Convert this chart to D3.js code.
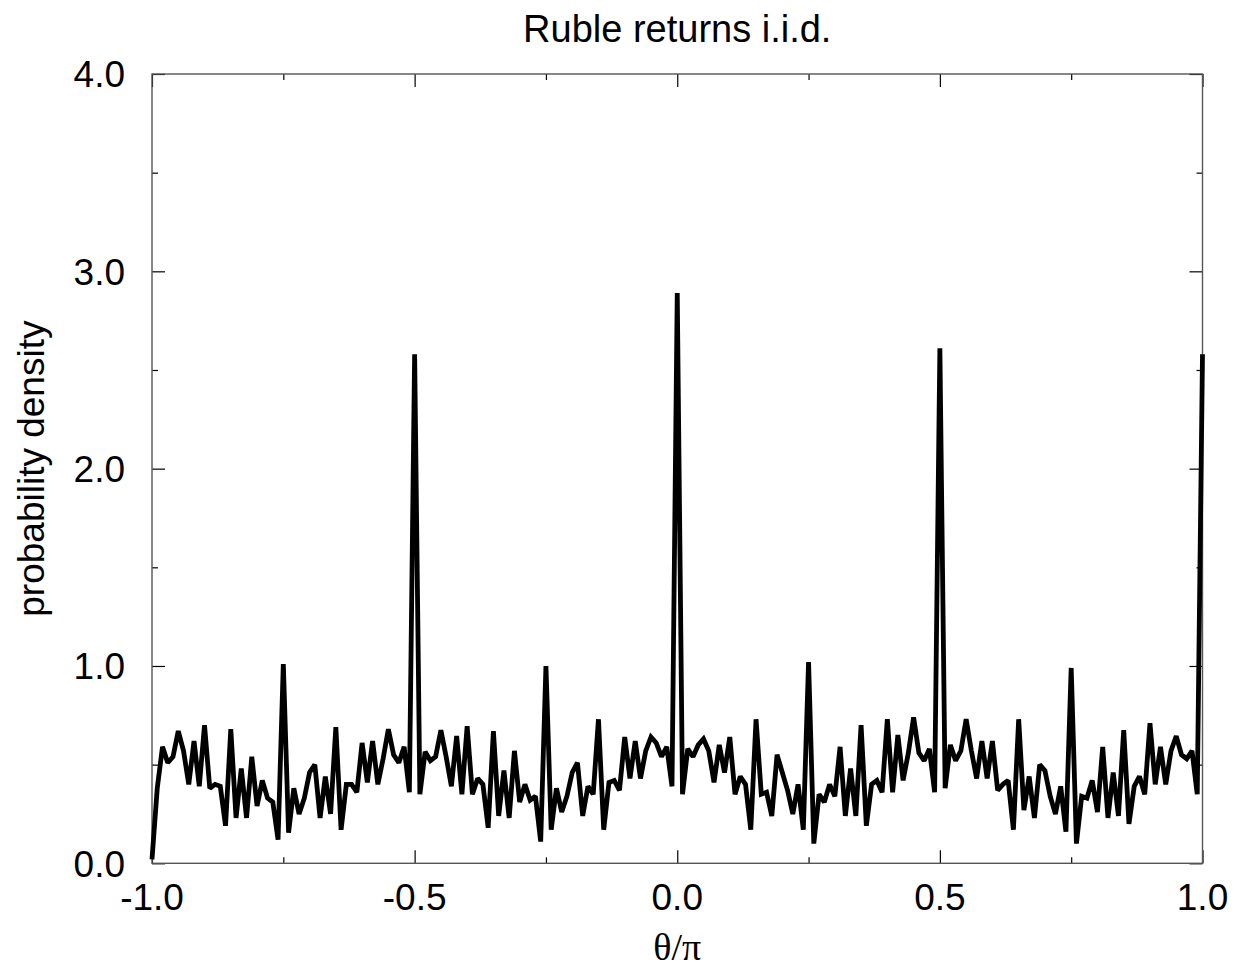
<!DOCTYPE html>
<html>
<head>
<meta charset="utf-8">
<script src="https://cdn.jsdelivr.net/npm/d3@7/dist/d3.min.js"></script>
<style>
  body { margin: 0; background: #fff; }
  text { font-family: "Liberation Sans", Arial, sans-serif; fill: #000; }
</style>
</head>
<body>
<div id="chart"></div>
<script>
// theta/pi grid, step 0.01 from -1 to 1
var thetaStart = -1.0, thetaStep = 0.01;

// probability density
var density = [
  0.02, 0.38, 0.59, 0.51, 0.54, 0.67, 0.57, 0.40, 0.62, 0.39,
  0.70, 0.38, 0.40, 0.39, 0.19, 0.68, 0.23, 0.48, 0.23, 0.54,
  0.29, 0.42, 0.33, 0.31, 0.12, 1.01, 0.155, 0.38, 0.25, 0.33,
  0.46, 0.50, 0.23, 0.44, 0.25, 0.69, 0.17, 0.40, 0.40, 0.36,
  0.61, 0.41, 0.62, 0.40, 0.53, 0.68, 0.55, 0.51, 0.59, 0.36,
  2.58, 0.35, 0.565, 0.52, 0.54, 0.675, 0.54, 0.39, 0.645, 0.35,
  0.695, 0.35, 0.43, 0.40, 0.18, 0.67, 0.24, 0.47, 0.23, 0.57,
  0.31, 0.40, 0.32, 0.34, 0.11, 1.00, 0.17, 0.38, 0.26, 0.34,
  0.46, 0.51, 0.24, 0.39, 0.35, 0.73, 0.17, 0.41, 0.42, 0.37,
  0.64, 0.43, 0.62, 0.43, 0.57, 0.64, 0.61, 0.54, 0.59, 0.39,
  2.89, 0.35, 0.58, 0.54, 0.60, 0.63, 0.57, 0.41, 0.60, 0.46,
  0.64, 0.35, 0.44, 0.40, 0.17, 0.73, 0.35, 0.36, 0.24, 0.55,
  0.46, 0.37, 0.25, 0.40, 0.17, 1.02, 0.10, 0.35, 0.31, 0.40,
  0.34, 0.59, 0.24, 0.48, 0.24, 0.70, 0.19, 0.40, 0.42, 0.36,
  0.73, 0.36, 0.65, 0.42, 0.56, 0.74, 0.56, 0.52, 0.58, 0.36,
  2.61, 0.38, 0.60, 0.52, 0.57, 0.73, 0.57, 0.43, 0.62, 0.43,
  0.62, 0.37, 0.40, 0.42, 0.17, 0.73, 0.27, 0.44, 0.23, 0.50,
  0.47, 0.34, 0.25, 0.39, 0.16, 0.99, 0.10, 0.34, 0.33, 0.42,
  0.26, 0.59, 0.23, 0.46, 0.24, 0.675, 0.20, 0.39, 0.44, 0.35,
  0.71, 0.40, 0.59, 0.40, 0.57, 0.645, 0.55, 0.53, 0.57, 0.35,
  2.58
];

var xTicks = [-1.0, -0.75, -0.5, -0.25, 0.0, 0.25, 0.5, 0.75, 1.0];
var xLabels = [-1.0, -0.5, 0.0, 0.5, 1.0];
var yTicks = [0.0, 0.5, 1.0, 1.5, 2.0, 2.5, 3.0, 3.5, 4.0];
var yLabels = [0.0, 1.0, 2.0, 3.0, 4.0];

var titleText = "Ruble returns i.i.d.";
var xTitle = "\u03b8/\u03c0";
var yTitle = "probability density";

var W = 1247, H = 973;
var margin = {top: 74, right: 44.5, bottom: 109.7, left: 152};
var width = W - margin.left - margin.right,
    height = H - margin.top - margin.bottom;

var x = d3.scaleLinear().domain([-1, 1]).range([0, width]);
var y = d3.scaleLinear().domain([0, 4]).range([height, 0]);

var data = density.map(function(v, i) {
  return {t: thetaStart + i * thetaStep, v: v};
});

var svg = d3.select("#chart").append("svg")
  .attr("width", W)
  .attr("height", H);

var g = svg.append("g")
  .attr("transform", "translate(" + margin.left + "," + margin.top + ")");

var frameColor = "#555";
// plain hyphen for negatives, like the original
var fmt = function(v) { return v.toFixed(1); };
function isLabelled(list, v) { return list.some(function(d) { return Math.abs(d - v) < 1e-9; }); }

// ticks on all four sides, pointing inward
var bottomAxis = d3.axisBottom(x).tickValues(xTicks).tickFormat("").tickSizeOuter(0).tickSizeInner(0);
var gx = g.append("g").attr("transform", "translate(0," + height + ")").call(bottomAxis);
gx.selectAll(".tick line")
  .attr("y2", function(d) { return isLabelled(xLabels, d) ? -13 : -6; })
  .attr("stroke", "#000").attr("stroke-width", 1.2);
gx.select(".domain").remove();

var topAxis = d3.axisTop(x).tickValues(xTicks).tickFormat("").tickSizeOuter(0).tickSizeInner(0);
var gxt = g.append("g").call(topAxis);
gxt.selectAll(".tick line")
  .attr("y2", function(d) { return isLabelled(xLabels, d) ? 13 : 6; })
  .attr("stroke", "#000").attr("stroke-width", 1.2);
gxt.select(".domain").remove();

var leftAxis = d3.axisLeft(y).tickValues(yTicks).tickFormat("").tickSizeOuter(0).tickSizeInner(0);
var gy = g.append("g").call(leftAxis);
gy.selectAll(".tick line")
  .attr("x2", function(d) { return isLabelled(yLabels, d) ? 13 : 6; })
  .attr("stroke", "#000").attr("stroke-width", 1.2);
gy.select(".domain").remove();

var rightAxis = d3.axisRight(y).tickValues(yTicks).tickFormat("").tickSizeOuter(0).tickSizeInner(0);
var gyr = g.append("g").attr("transform", "translate(" + width + ",0)").call(rightAxis);
gyr.selectAll(".tick line")
  .attr("x2", function(d) { return isLabelled(yLabels, d) ? -13 : -6; })
  .attr("stroke", "#000").attr("stroke-width", 1.2);
gyr.select(".domain").remove();

// frame
g.append("rect")
  .attr("x", 0).attr("y", 0)
  .attr("width", width).attr("height", height)
  .attr("fill", "none")
  .attr("stroke", frameColor)
  .attr("stroke-width", 1.4);

// tick labels
g.selectAll("text.xl").data(xLabels).enter().append("text")
  .attr("class", "xl")
  .attr("x", function(d) { return x(d); })
  .attr("y", height + 47)
  .attr("text-anchor", "middle")
  .style("font-size", "37px")
  .text(function(d) { return fmt(d); });

g.selectAll("text.yl").data(yLabels).enter().append("text")
  .attr("class", "yl")
  .attr("x", -27)
  .attr("y", function(d) { return y(d); })
  .attr("dy", "0.36em")
  .attr("text-anchor", "end")
  .style("font-size", "37px")
  .text(function(d) { return fmt(d); });

// the density curve
var line = d3.line()
  .x(function(d) { return x(d.t); })
  .y(function(d) { return y(d.v); });

g.append("path")
  .datum(data)
  .attr("fill", "none")
  .attr("stroke", "#000")
  .attr("stroke-width", 4.8)
  .attr("stroke-linejoin", "miter")
  .attr("stroke-miterlimit", 2)
  .attr("d", line);

// titles
svg.append("text")
  .attr("x", margin.left + width / 2)
  .attr("y", 42)
  .attr("text-anchor", "middle")
  .style("font-size", "38px")
  .text(titleText);

svg.append("text")
  .attr("x", margin.left + width / 2)
  .attr("y", 960)
  .attr("text-anchor", "middle")
  .style("font-family", "'Liberation Serif', 'Times New Roman', serif")
  .style("font-size", "38px")
  .text(xTitle);

svg.append("text")
  .attr("transform", "translate(44," + (margin.top + height / 2) + ") rotate(-90)")
  .attr("text-anchor", "middle")
  .style("font-size", "37px")
  .text(yTitle);
</script>
</body>
</html>
